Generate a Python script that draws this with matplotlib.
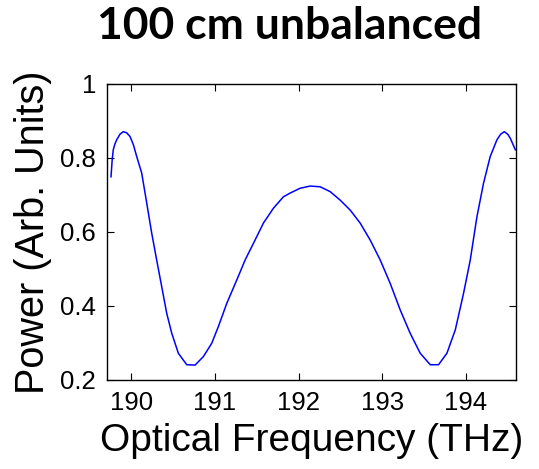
import numpy as np
import matplotlib
matplotlib.use('Agg')
import matplotlib.pyplot as plt

# values
freq = [189.758, 189.772, 189.785, 189.805, 189.826, 189.865, 189.905, 189.945,
        189.985, 190.025, 190.065, 190.125, 190.185,
        190.245, 190.304, 190.364, 190.424, 190.484, 190.563, 190.663, 190.763,
        190.862, 190.962, 191.041, 191.142, 191.261, 191.361, 191.480, 191.580,
        191.699, 191.819, 191.899, 192.018, 192.138, 192.258, 192.377, 192.497,
        192.617, 192.736, 192.856, 192.976, 193.095, 193.215, 193.334, 193.454,
        193.574, 193.673, 193.773, 193.873, 193.972, 194.052, 194.132, 194.211,
        194.291, 194.371, 194.415, 194.459, 194.500, 194.531, 194.591]
power = [0.749, 0.795, 0.822, 0.838, 0.849, 0.864, 0.871, 0.868,
         0.858, 0.836, 0.804, 0.759, 0.678,
         0.596, 0.524, 0.452, 0.380, 0.326, 0.272, 0.241, 0.240,
         0.263, 0.299, 0.344, 0.407, 0.470, 0.524, 0.578, 0.624,
         0.664, 0.695, 0.705, 0.718, 0.724, 0.722, 0.709, 0.686,
         0.659, 0.624, 0.578, 0.524, 0.461, 0.389, 0.326, 0.272,
         0.241, 0.241, 0.272, 0.335, 0.434, 0.524, 0.641, 0.732,
         0.804, 0.849, 0.864, 0.871, 0.864, 0.853, 0.822]

xticks = [190, 191, 192, 193, 194]
yticks = [0.2, 0.4, 0.6, 0.8, 1.0]
ytick_labels = ['0.2', '0.4', '0.6', '0.8', '1']

fig = plt.figure(figsize=(5.39, 4.69), dpi=100)
ax = fig.add_axes([0.1985, 0.190, 0.759, 0.631])

ax.plot(freq, power, color='#0000ff', lw=1.1)

ax.set_xlim(189.71, 194.6)
ax.set_ylim(0.2, 1.0)
ax.set_xticks(xticks)
ax.set_yticks(yticks)
ax.set_yticklabels(ytick_labels)
ax.tick_params(direction='in', length=5, width=0.8, top=True, right=True,
               labelsize=18.5, pad=8)
for lab in ax.get_xticklabels() + ax.get_yticklabels():
    lab.set_family('Liberation Sans')
for sp in ax.spines.values():
    sp.set_linewidth(1.0)

ax.set_xlabel('Optical Frequency (THz)', family='Liberation Sans', fontsize=28, labelpad=6)
ax.set_ylabel('Power (Arb. Units)', family='Liberation Sans', fontsize=28.5, labelpad=6)

fig.text(0.538, 0.945, '100 cm unbalanced', family='Lato', weight='bold',
         fontsize=32, ha='center', va='center')

fig.savefig('out.png', dpi=100)
